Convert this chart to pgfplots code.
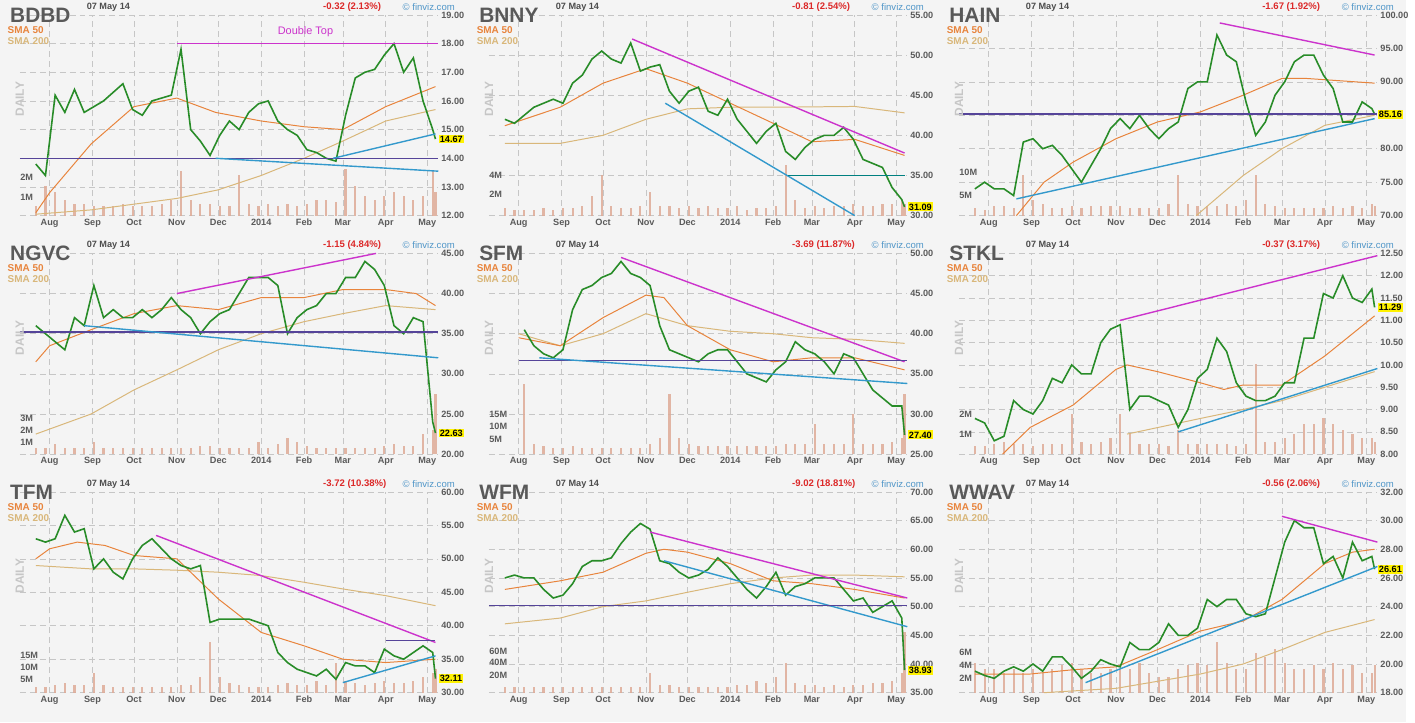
\documentclass[border=0pt]{standalone}
\usepackage{fontspec}
\setmainfont{Liberation Sans}
\setsansfont{Liberation Sans}
\usepackage{pgfplots}
\usepackage{pgfplotstable}
\pgfplotsset{compat=1.18}
\definecolor{bg}{RGB}{244,244,244}
\definecolor{candle}{RGB}{40,140,40}
\definecolor{mag}{RGB}{204,51,204}
\definecolor{tblue}{RGB}{51,153,204}
\definecolor{purp}{RGB}{85,68,153}
\definecolor{smaA}{RGB}{232,132,60}
\definecolor{smaB}{RGB}{217,183,122}
\definecolor{volc}{RGB}{222,170,150}
\definecolor{chg}{RGB}{220,40,40}
\definecolor{fv}{RGB}{80,150,200}
\definecolor{tick}{RGB}{90,90,90}

\pgfplotstableread{
x bdbd bnny hain ngvc sfm stkl tfm wfm wwav
-10 13.8 42.0 74 36 nan 8.8 53 55 19.5
-3 13.4 41.5 75 35 nan 8.7 52.5 55.5 19.2
4 16.2 42.5 74 34 40.5 8.3 53 55 19.0
11 15.6 43.5 74 33 38.5 8.4 56.5 55 19.5
18 16.4 44.0 73 37 37.5 9.2 54 53 19.8
25 15.6 44.5 81 36 37.0 9.0 54.5 51.5 19.5
32 15.8 44.0 81.5 41 38 8.9 48.5 52 20.0
39 16.0 46.5 80 37 43 9.2 50 54 19.5
46 16.3 47.5 80.5 38 45.5 9.7 48 57 20.5
53 16.6 49.5 79 37 46 9.6 47 58 20.5
60 15.7 50.5 77 37 47 10.0 50 58 19.8
67 15.5 49.5 75 38 47.5 9.8 52 58.5 19.0
74 16.0 49.0 77.5 37 49 9.8 53 61 19.5
81 16.1 51.5 80 38 47.5 10.5 51.5 63 20.3
88 16.2 48.0 83 39.5 47 10.8 50 64.5 20.0
95 17.8 48.5 84.5 38 46 10.9 49 63.5 19.8
102 15.0 48.8 83 37 41 9.0 48.5 58 21.5
109 14.6 45.5 85 35 38 9.3 49 57.5 21.0
116 14.1 44.0 83 36.5 37.5 9.3 40.5 56 21.0
123 14.8 45.5 81.5 37.5 37 9.2 41 55 21.5
130 15.3 46.0 83 38 36.5 9.1 41 55.5 22.8
137 15.0 43.0 84 40 37.5 8.6 41 56.5 22.0
144 15.6 42.5 89 42 38 9.0 41 58.5 22.0
151 15.9 44.5 90 42 38 9.7 40.5 57 22.5
158 16.0 42.0 90 42 36.5 9.9 40 55 24.5
165 15.3 40.5 97 41 35 10.6 36 53 24.0
172 15.0 39.0 94 35 34.5 10.3 34.5 51.5 24.5
179 14.8 40.5 93 37 34 9.6 33.5 53.5 24.5
186 14.3 41.5 87 38 35.5 9.3 33 56 23.5
193 14.2 38.0 82 38.5 36.5 9.2 32.5 52 23.3
200 14.0 37.0 84 40 39 9.2 33.5 53.5 23.5
207 13.9 38.5 88 40 38 9.3 32 54 26.0
214 15.5 39.5 90 42 37.5 9.6 34.5 55 28.5
221 16.8 40.0 93 42 36.5 9.6 34 55 30.0
228 17.0 40.0 94 44 35 10.6 34 55 29.5
235 17.1 41.0 94 43 37.5 10.6 33 53 29.5
242 17.6 39.5 91 41 37 11.6 36.5 51 27.0
249 18.0 37.0 89 36 35 11.5 35.5 51.5 27.5
256 17.0 36.5 84 35 33 12.0 35 49 26.0
263 17.5 36.0 84 37 32 11.5 36 50 28.5
270 16.0 33.5 87 36.5 31 11.4 37 51 27.2
277 15.0 32.0 86 24 31 11.7 36 48 27.5
279 14.67 31.09 85.16 22.63 27.4 11.29 32.11 38.93 26.61
}\price

\pgfplotstableread{
x bdbd bnny hain ngvc sfm stkl tfm wfm wwav
-10 .05 .04 .04 .03 nan .04 .03 .03 .15
-3 .15 .03 .03 .03 nan .04 .03 .03 .12
4 .12 .03 .05 .05 .35 .05 .04 .03 .12
11 .08 .03 .05 .03 .05 .06 .05 .03 .10
18 .06 .04 .04 .03 .04 .05 .04 .03 .12
25 .06 .03 .20 .03 .03 .05 .04 .03 .10
32 .05 .04 .08 .06 .03 .04 .10 .03 .12
39 .05 .04 .06 .03 .04 .05 .04 .03 .10
46 .05 .05 .04 .03 .03 .05 .03 .03 .12
53 .06 .10 .04 .03 .03 .05 .03 .03 .14
60 .05 .20 .05 .03 .03 .20 .03 .03 .15
67 .05 .05 .04 .03 .03 .06 .03 .03 .12
74 .05 .04 .05 .03 .03 .05 .03 .03 .10
81 .06 .04 .05 .03 .03 .06 .03 .03 .10
88 .08 .05 .05 .03 .03 .08 .03 .03 .12
95 .22 .12 .05 .03 .05 .20 .04 .10 .12
102 .08 .05 .04 .03 .08 .10 .04 .04 .12
109 .06 .05 .04 .04 .30 .05 .08 .04 .15
116 .06 .04 .04 .04 .08 .05 .25 .03 .10
123 .05 .05 .04 .03 .05 .05 .08 .03 .08
130 .05 .04 .06 .03 .04 .04 .05 .03 .08
137 .20 .05 .20 .03 .04 .12 .04 .03 .12
144 .06 .04 .06 .03 .04 .05 .03 .03 .14
151 .05 .04 .05 .06 .04 .05 .03 .03 .15
158 .06 .05 .05 .03 .04 .05 .03 .04 .14
165 .05 .03 .05 .05 .04 .05 .04 .04 .25
172 .06 .04 .06 .08 .04 .05 .05 .06 .15
179 .05 .04 .05 .06 .04 .04 .04 .05 .12
186 .06 .05 .08 .04 .04 .05 .04 .08 .12
193 .08 .25 .20 .03 .05 .45 .06 .15 .20
200 .08 .08 .06 .03 .05 .06 .04 .05 .18
207 .07 .04 .05 .03 .05 .06 .15 .04 .22
214 .23 .05 .04 .03 .15 .08 .06 .04 .15
221 .15 .04 .04 .03 .05 .10 .05 .03 .12
228 .10 .05 .04 .03 .05 .15 .04 .04 .12
235 .08 .05 .04 .03 .05 .15 .05 .03 .14
242 .10 .06 .04 .04 .20 .18 .06 .04 .12
249 .12 .05 .05 .05 .05 .15 .05 .04 .15
256 .10 .05 .04 .04 .05 .12 .05 .05 .12
263 .08 .06 .05 .04 .05 .10 .06 .05 .14
270 .10 .06 .04 .10 .06 .08 .08 .06 .10
277 .22 .08 .06 .12 .08 .08 .10 .10 .10
279 .12 .06 .05 .30 .30 .06 .12 .30 .14
}\vol

\pgfplotsset{panel/.style={
  scale only axis, width=210.5pt, height=101pt, anchor=north west,
  xmin=-21.5, xmax=281,
  xtick={0,31,61,92,122,153,184,212,243,273},
  xticklabels={Aug,Sep,Oct,Nov,Dec,2014,Feb,Mar,Apr,May},
  yticklabel pos=right,
  grid=major, grid style={densely dashed, gray!45, line width=0.3pt},
  axis line style={draw=none}, tick style={draw=none},
  ticklabel style={font=\fontsize{4.6}{5}\selectfont\bfseries, text=tick},
  xticklabel style={text height=3.4pt, text depth=1pt, yshift=2pt},
  yticklabel style={xshift=-2pt},
  y tick label style={/pgf/number format/.cd, fixed, fixed zerofill, precision=2, assume math mode=true},
  clip=false,
}}
\newcommand\deco[4]{%
  \node[anchor=west, font=\fontsize{10.5}{11}\selectfont\bfseries, text=black!65, inner sep=0pt] at (rel axis cs:-0.024,1.0) {#1};
  \node[anchor=west, font=\fontsize{4.6}{5}\selectfont\bfseries, text=black!70, inner sep=0pt] at (rel axis cs:0.159,1.04) {07 May 14};
  \node[anchor=west, font=\fontsize{4.8}{5}\selectfont\bfseries, text=chg, inner sep=0pt] at (rel axis cs:#2,1.04) {#3};
  \node[anchor=west, font=\fontsize{4.8}{5}\selectfont, text=fv, inner sep=0pt] at (rel axis cs:0.914,1.04) {\textcopyright\ finviz.com};
  \node[anchor=west, font=\fontsize{5}{5}\selectfont\bfseries, text=smaA, inner sep=0pt] at (rel axis cs:-0.03,0.926) {SMA 50};
  \node[anchor=west, font=\fontsize{5}{5}\selectfont\bfseries, text=smaB, inner sep=0pt] at (rel axis cs:-0.03,0.871) {SMA 200};
  \node[rotate=90, font=\fontsize{6}{6}\selectfont\bfseries, text=gray!45, inner sep=0pt] at (rel axis cs:0.0,0.58) {DAILY};
  \node[anchor=west, fill=yellow, font=\fontsize{4.6}{5}\selectfont\bfseries, inner sep=0.6pt] at (axis cs:281,#4) {#4};
}
\newcommand\vlab[2]{\node[anchor=west, font=\fontsize{4.6}{5}\selectfont\bfseries, text=tick, inner sep=0pt] at (axis cs:-21.5,#2) {#1};}
\tikzset{trend/.style={line width=0.7pt}, vbar/.style={ycomb, volc, line width=1.1pt, opacity=0.85}}

\begin{document}
\begin{tikzpicture}
\fill[bg] (0,0) rectangle (707.5pt,-363.5pt);

% ---------- BDBD
\begin{axis}[panel, at={(10pt,-7.5pt)}, ymin=12, ymax=19, ytick={12,13,...,19}]
\addplot[vbar] table[x=x, y expr=12+\thisrow{bdbd}*7] {\vol};
\addplot[smaB, line width=0.5pt] coordinates {(-10,12.05) (30,12.2) (61,12.4) (92,12.6) (122,12.9) (153,13.4) (184,14.0) (212,14.6) (243,15.3) (279,15.7)};
\addplot[smaA, line width=0.5pt] coordinates {(-10,12.1) (0,12.8) (30,14.5) (61,15.8) (92,16.1) (120,15.6) (153,15.3) (184,15.1) (212,15.0) (243,15.8) (279,16.5)};
\addplot[candle, line width=0.8pt] table[x=x, y=bdbd] {\price};
\addplot[mag, trend] coordinates {(92,18) (281,18)};
\addplot[purp, trend] coordinates {(-21.5,14) (281,14)};
\addplot[tblue, trend] coordinates {(120,14) (281,13.55)};
\addplot[tblue, trend] coordinates {(205,14.0) (279,14.85)};
\node[font=\fontsize{5.5}{6}\selectfont, text=mag, anchor=south] at (axis cs:185,18) {Double Top};
\vlab{2M}{13.35}\vlab{1M}{12.65}
\deco{BDBD}{0.724}{-0.32 (2.13\%)}{14.67}
\end{axis}

% ---------- BNNY
\begin{axis}[panel, at={(246pt,-7.5pt)}, ymin=30, ymax=55, ytick={30,35,...,55}]
\addplot[vbar] table[x=x, y expr=30+\thisrow{bnny}*25] {\vol};
\addplot[smaB, line width=0.5pt] coordinates {(-10,39.0) (30,39.0) (61,40) (92,42) (122,43.3) (153,43.5) (184,43.5) (243,43.6) (279,42.8)};
\addplot[smaA, line width=0.5pt] coordinates {(-10,41.2) (30,43.5) (61,46.5) (92,48.3) (122,46.5) (153,44) (184,41.5) (212,39.2) (243,39.5) (279,37.5)};
\addplot[candle, line width=0.8pt] table[x=x, y=bnny] {\price};
\addplot[mag, trend] coordinates {(82,52) (279,37.8)};
\addplot[tblue, trend] coordinates {(106,44) (243,30)};
\addplot[teal, trend] coordinates {(195,35) (279,35)};
\vlab{4M}{35}\vlab{2M}{32.7}
\deco{BNNY}{0.724}{-0.81 (2.54\%)}{31.09}
\end{axis}

% ---------- HAIN
\begin{axis}[panel, at={(482.5pt,-7.5pt)}, ymin=70, ymax=100, ytick={70,75,...,100}]
\addplot[vbar] table[x=x, y expr=70+\thisrow{hain}*30] {\vol};
\addplot[smaB, line width=0.5pt] coordinates {(150,70) (184,76) (212,80) (243,83.5) (279,85)};
\addplot[smaA, line width=0.5pt] coordinates {(20,70) (40,75) (61,78) (92,81.5) (122,84.0) (153,85.5) (184,88) (212,90.5) (230,90.5) (279,89.8)};
\addplot[candle, line width=0.8pt] table[x=x, y=hain] {\price};
\addplot[mag, trend] coordinates {(167,98.8) (279,94)};
\addplot[purp, trend] coordinates {(-21.5,85.2) (281,85.2)};
\addplot[tblue, trend] coordinates {(20,72.5) (279,84.5)};
\vlab{10M}{76.5}\vlab{5M}{73}
\deco{HAIN}{0.724}{-1.67 (1.92\%)}{85.16}
\end{axis}

% ---------- NGVC
\begin{axis}[panel, at={(10pt,-127.5pt)}, ymin=20, ymax=45, ytick={20,25,...,45}]
\addplot[vbar] table[x=x, y expr=20+\thisrow{ngvc}*25] {\vol};
\addplot[smaB, line width=0.5pt] coordinates {(-10,22.5) (30,25) (61,28) (92,30.5) (122,33) (153,35) (184,36.5) (212,37.5) (243,38.5) (279,38)};
\addplot[smaA, line width=0.5pt] coordinates {(-10,31.5) (0,33.5) (30,35.5) (61,37.5) (92,38.5) (122,38) (153,39.5) (184,39.5) (212,40.5) (243,40.5) (265,40) (279,38.5)};
\addplot[candle, line width=0.8pt] table[x=x, y=ngvc] {\price};
\addplot[mag, trend] coordinates {(92,40) (236,45)};
\addplot[purp, trend] coordinates {(-21.5,35.2) (281,35.2)};
\addplot[tblue, trend] coordinates {(25,36) (281,32)};
\vlab{3M}{24.5}\vlab{2M}{23}\vlab{1M}{21.5}
\deco{NGVC}{0.724}{-1.15 (4.84\%)}{22.63}
\end{axis}

% ---------- SFM
\begin{axis}[panel, at={(246pt,-127.5pt)}, ymin=25, ymax=50, ytick={25,30,...,50}]
\addplot[vbar] table[x=x, y expr=25+\thisrow{sfm}*25] {\vol};
\addplot[smaB, line width=0.5pt] coordinates {(0,40) (30,38.5) (61,40) (92,42.5) (122,41) (153,40.3) (184,40) (212,39.5) (243,39.3) (279,38.8)};
\addplot[smaA, line width=0.5pt] coordinates {(0,39.5) (30,38.5) (61,42) (92,44.8) (105,44.5) (122,41) (153,38) (184,36.5) (212,37) (243,37) (279,35.5)};
\addplot[candle, line width=0.8pt] table[x=x, y=sfm] {\price};
\addplot[mag, trend] coordinates {(74,49.5) (279,36.5)};
\addplot[purp, trend] coordinates {(0,36.7) (281,36.7)};
\addplot[tblue, trend] coordinates {(15,37) (281,33.8)};
\vlab{15M}{30}\vlab{10M}{28.5}\vlab{5M}{26.8}
\deco{SFM}{0.724}{-3.69 (11.87\%)}{27.40}
\end{axis}

% ---------- STKL
\begin{axis}[panel, at={(482.5pt,-127.5pt)}, ymin=8, ymax=12.5, ytick={8,8.5,...,12.5}]
\addplot[vbar] table[x=x, y expr=8+\thisrow{stkl}*4.5] {\vol};
\addplot[smaB, line width=0.5pt] coordinates {(100,8.45) (153,8.8) (184,9.0) (212,9.2) (243,9.5) (279,9.85)};
\addplot[smaA, line width=0.5pt] coordinates {(10,8.0) (30,8.6) (61,9.1) (92,9.9) (100,10.0) (122,9.85) (153,9.6) (170,9.45) (184,9.55) (212,9.55) (243,10.2) (263,10.7) (279,11.1)};
\addplot[candle, line width=0.8pt] table[x=x, y=stkl] {\price};
\addplot[mag, trend] coordinates {(95,11.0) (281,12.45)};
\addplot[tblue, trend] coordinates {(137,8.5) (281,9.92)};
\vlab{2M}{8.9}\vlab{1M}{8.45}
\deco{STKL}{0.724}{-0.37 (3.17\%)}{11.29}
\end{axis}

% ---------- TFM
\begin{axis}[panel, at={(10pt,-247.5pt)}, ymin=30, ymax=60, ytick={30,35,...,60}]
\addplot[vbar] table[x=x, y expr=30+\thisrow{tfm}*30] {\vol};
\addplot[smaB, line width=0.5pt] coordinates {(-10,49) (30,48.5) (61,48.5) (92,48.3) (122,48) (153,47.5) (184,46.5) (212,45.5) (243,44.5) (279,43)};
\addplot[smaA, line width=0.5pt] coordinates {(-10,50) (0,51.5) (20,52.5) (40,52) (61,50.5) (92,50) (122,44) (153,39) (184,37) (212,35) (243,34.5) (279,35)};
\addplot[candle, line width=0.8pt] table[x=x, y=tfm] {\price};
\addplot[mag, trend] coordinates {(77,53.5) (279,37.5)};
\addplot[purp, trend] coordinates {(243,37.8) (279,37.8)};
\addplot[tblue, trend] coordinates {(212,31.5) (279,35.5)};
\vlab{15M}{35.5}\vlab{10M}{33.8}\vlab{5M}{32}
\deco{TFM}{0.724}{-3.72 (10.38\%)}{32.11}
\end{axis}

% ---------- WFM
\begin{axis}[panel, at={(246pt,-247.5pt)}, ymin=35, ymax=70, ytick={35,40,...,70}]
\addplot[vbar] table[x=x, y expr=35+\thisrow{wfm}*35] {\vol};
\addplot[smaB, line width=0.5pt] coordinates {(-10,47) (30,48) (61,50) (92,51) (122,52.5) (153,54) (184,55) (212,55.5) (243,55.5) (279,55.2)};
\addplot[smaA, line width=0.5pt] coordinates {(-10,53) (30,54.5) (61,56) (92,59.3) (105,60) (122,59.5) (153,57.5) (184,54.5) (212,54) (243,53) (279,51.5)};
\addplot[candle, line width=0.8pt] table[x=x, y=wfm] {\price};
\addplot[mag, trend] coordinates {(95,63) (281,51.5)};
\addplot[tblue, trend] coordinates {(105,58) (281,46.5)};
\addplot[purp, trend] coordinates {(-21.5,50.2) (281,50.2)};
\vlab{60M}{42.2}\vlab{40M}{40.2}\vlab{20M}{38}
\deco{WFM}{0.724}{-9.02 (18.81\%)}{38.93}
\end{axis}

% ---------- WWAV
\begin{axis}[panel, at={(482.5pt,-247.5pt)}, ymin=18, ymax=32, ytick={18,20,...,32}]
\addplot[vbar] table[x=x, y expr=18+\thisrow{wwav}*14] {\vol};
\addplot[smaB, line width=0.5pt] coordinates {(40,18) (92,18.3) (153,19.3) (184,20) (212,21) (243,22.2) (279,23.1)};
\addplot[smaA, line width=0.5pt] coordinates {(-10,19.3) (30,19.3) (61,19.6) (92,19.8) (122,21) (153,22.3) (184,23.0) (212,24.5) (243,27.0) (263,27.8) (279,28.0)};
\addplot[candle, line width=0.8pt] table[x=x, y=wwav] {\price};
\addplot[mag, trend] coordinates {(212,30.3) (281,28.5)};
\addplot[tblue, trend] coordinates {(70,18.7) (281,26.8)};
\vlab{6M}{20.8}\vlab{4M}{19.9}\vlab{2M}{19}
\deco{WWAV}{0.724}{-0.56 (2.06\%)}{26.61}
\end{axis}
\end{tikzpicture}
\end{document}
